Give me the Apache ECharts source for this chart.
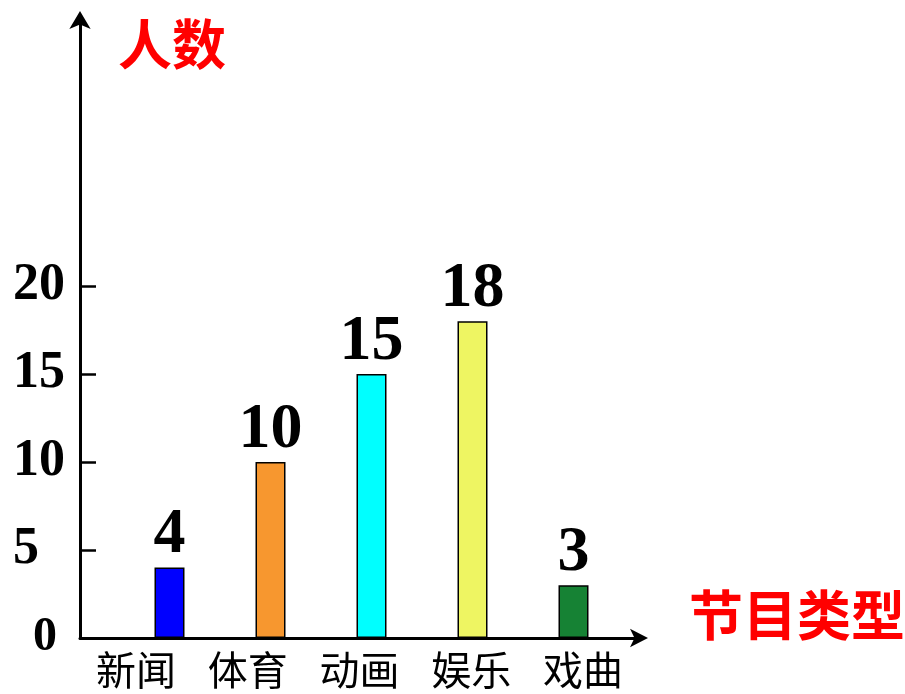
<!DOCTYPE html>
<html>
<head>
<meta charset="utf-8">
<script src="https://cdn.jsdelivr.net/npm/echarts@6/dist/echarts.min.js"></script>
<style>html,body{margin:0;padding:0;background:#fff;}#main{width:905px;height:694px;}</style>
</head>
<body>
<div id="main"></div>
<script>
const categories = ['新闻', '体育', '动画', '娱乐', '戏曲'];
const values = [4, 10, 15, 18, 3];
const barColors = ['#0000FF', '#F7972F', '#00FFFF', '#EEF562', '#168234'];
const yTickValues = [0, 5, 10, 15, 20];
const yTitle = '人数';
const xTitle = '节目类型';

const serif = '"Liberation Serif", "Times New Roman", serif';
const cjk = '"Noto Sans CJK SC", sans-serif';

const chart = echarts.init(document.getElementById('main'));
chart.setOption({
  animation: false,
  backgroundColor: '#ffffff',
  title: [
    { text: yTitle, left: 113, top: 12, textStyle: { color: '#FF0000', fontSize: 54, fontWeight: 'bold', fontFamily: cjk } },
    { text: xTitle, left: 684, top: 583, textStyle: { color: '#FF0000', fontSize: 54, fontWeight: 'bold', fontFamily: cjk } }
  ],
  grid: [
    { left: 80, right: 266, top: 22, bottom: 56 },
    { left: 119, right: 281, top: 22, bottom: 56 }
  ],
  xAxis: [
    {
      type: 'category', gridIndex: 0, data: categories,
      axisLine: { show: true, symbol: ['none', 'arrow'], symbolSize: [14, 18], symbolOffset: [0, 9], lineStyle: { color: '#000', width: 3 } },
      axisTick: { show: false },
      axisLabel: { margin: 12, color: '#000', fontSize: 40, fontFamily: cjk, fontWeight: 'normal' }
    },
    {
      type: 'category', gridIndex: 1, data: categories,
      axisLine: { show: false }, axisTick: { show: false }, axisLabel: { show: false }
    }
  ],
  yAxis: [
    {
      type: 'value', gridIndex: 0, min: 0, max: 35, interval: 5,
      axisLine: { show: true, symbol: ['none', 'arrow'], symbolSize: [16, 18], symbolOffset: [0, 11], lineStyle: { color: '#000', width: 3 } },
      axisTick: { show: true, inside: true, length: 16, customValues: yTickValues, lineStyle: { color: '#000', width: 2.5 } },
      splitLine: { show: false },
      axisLabel: {
        customValues: yTickValues, align: 'left', margin: 67, color: '#000',
        fontSize: 52, fontWeight: 'bold', fontFamily: serif,
        formatter: v => v === 0 ? '{z|0}' : '{a|' + v + '}',
        rich: {
          a: { fontSize: 52, fontWeight: 'bold', fontFamily: serif, color: '#000' },
          z: { fontSize: 48, fontWeight: 'bold', fontFamily: serif, color: '#000', padding: [0, 0, 0, 20] }
        }
      }
    },
    {
      type: 'value', gridIndex: 1, min: 0, max: 35, interval: 5, show: false,
      splitLine: { show: false }
    }
  ],
  series: [{
    type: 'bar', xAxisIndex: 1, yAxisIndex: 1, barWidth: 30,
    data: values.map((v, i) => ({ value: v, itemStyle: { color: barColors[i] } })),
    itemStyle: { borderColor: '#000', borderWidth: 1.5 },
    label: { show: true, position: 'top', distance: 0, color: '#000', fontSize: 64, fontWeight: 'bold', fontFamily: serif }
  }]
});
</script>
</body>
</html>
